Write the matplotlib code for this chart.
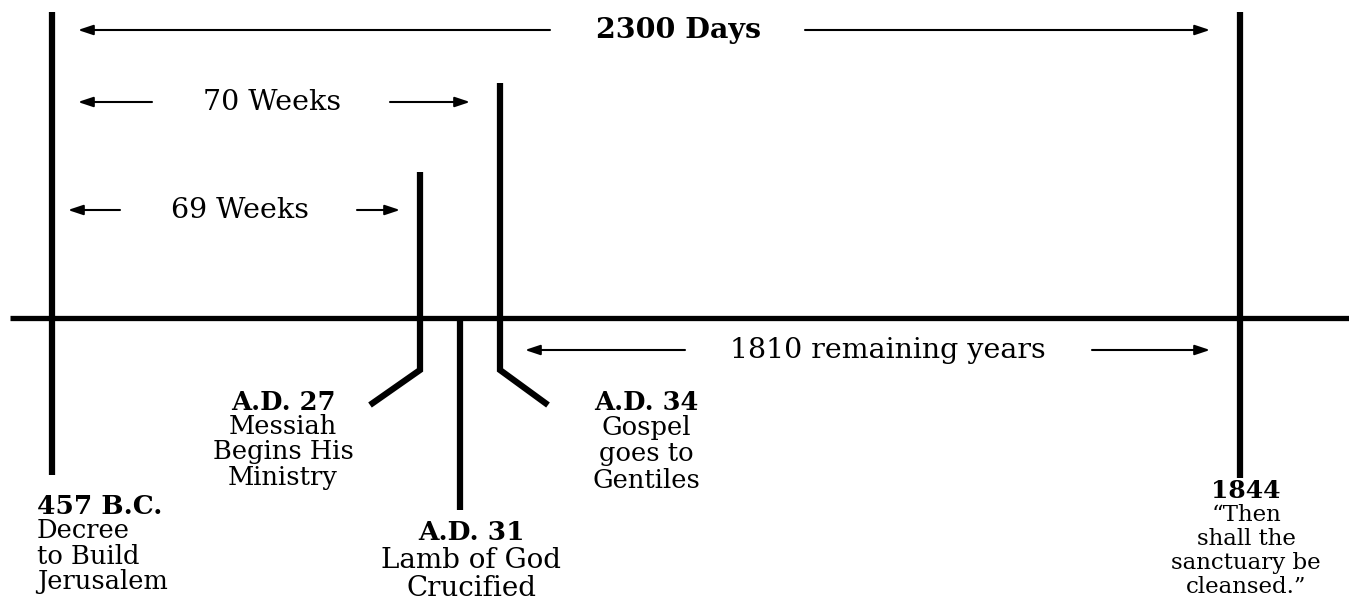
import matplotlib.pyplot as plt

# timeline diagram, coordinates in picture pixels (y grows downward)
plt.rcParams['font.family'] = ['DejaVu Serif']

# event markers: x of the post, top, bottom, elbow end (None = straight)
event_x = [52, 420, 460, 500, 1240]
event_top = [12, 172, 318, 83, 12]
event_bottom = [475, 370, 510, 370, 478]
event_elbow = [None, (370, 405), None, (548, 405), None]

# event captions
event_titles = ["457 B.C.", "A.D. 27", "A.D. 31", "A.D. 34", "1844"]
event_lines = [
    ["Decree", "to Build", "Jerusalem"],
    ["Messiah", "Begins His", "Ministry"],
    ["Lamb of God", "Crucified"],
    ["Gospel", "goes to", "Gentiles"],
    ["\u201cThen", "shall the", "sanctuary be", "cleansed.\u201d"],
]
caption_x = [37, 283, 471, 646, 1246]
caption_y = [506, 402, 532, 402, 491]
caption_ha = ["left", "center", "center", "center", "center"]
line_step = [25, 25, 28, 26, 24]
title_size = [19, 18.5, 19, 18.5, 18]
caption_size = [18.5, 18.5, 20, 18.5, 16.5]

# spans: label, y, left arrow (tip, tail), right arrow (tail, tip), label x
span_labels = ["2300 Days", "70 Weeks", "69 Weeks", "1810 remaining years"]
span_y = [30, 102, 210, 350]
span_left = [(78, 550), (78, 152), (68, 120), (525, 685)]
span_right = [(805, 1210), (390, 470), (357, 400), (1092, 1210)]
span_text_x = [678, 272, 240, 888]
span_bold = [True, False, False, False]

fig = plt.figure(figsize=(13.49, 6.03), dpi=100)
ax = fig.add_axes([0, 0, 1, 1])
ax.set_xlim(0, 1349)
ax.set_ylim(603, 0)
ax.axis("off")

# main time line
ax.plot([10, 1349], [318, 318], color="black", lw=3.8, solid_capstyle="butt")

for x, top, bot, elbow in zip(event_x, event_top, event_bottom, event_elbow):
    xs, ys = [x, x], [top, bot]
    if elbow is not None:
        xs.append(elbow[0])
        ys.append(elbow[1])
    ax.plot(xs, ys, color="black", lw=4.5, solid_capstyle="butt",
            solid_joinstyle="miter")

for title, lines, cx, cy, ha, step, ts, fs in zip(
        event_titles, event_lines, caption_x, caption_y, caption_ha,
        line_step, title_size, caption_size):
    ax.text(cx, cy, title, ha=ha, va="center", fontsize=ts, fontweight="bold")
    for i, s in enumerate(lines):
        ax.text(cx, cy + step * (i + 1), s, ha=ha, va="center", fontsize=fs)

arrow = dict(arrowstyle="-|>,head_length=0.9,head_width=0.3", color="black",
             lw=1.5, shrinkA=0, shrinkB=0)
for label, y, left, right, tx, bold in zip(span_labels, span_y, span_left,
                                           span_right, span_text_x, span_bold):
    ax.annotate("", xy=(left[0], y), xytext=(left[1], y), arrowprops=arrow)
    ax.annotate("", xy=(right[1], y), xytext=(right[0], y), arrowprops=arrow)
    ax.text(tx, y, label, ha="center", va="center", fontsize=20.5,
            fontweight="bold" if bold else "normal")

fig.savefig("out.png", dpi=100)
